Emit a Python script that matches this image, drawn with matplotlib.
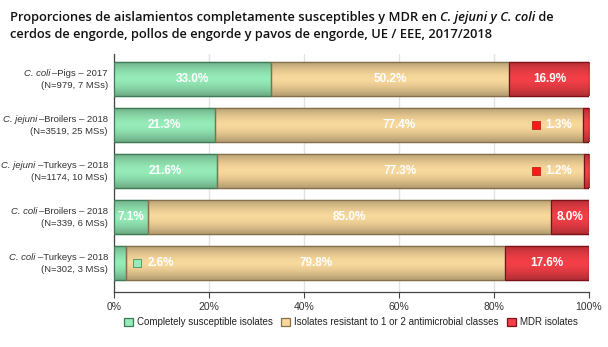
import numpy as np
import matplotlib
matplotlib.use("Agg")
import matplotlib.pyplot as plt
from matplotlib.colors import to_rgb
from matplotlib.patches import Patch

plt.rcParams['font.family'] = ['Liberation Sans', 'DejaVu Sans']

species = ["C. coli", "C. jejuni", "C. jejuni", "C. coli", "C. coli"]
groups = ["Pigs – 2017", "Broilers – 2018", "Turkeys – 2018", "Broilers – 2018", "Turkeys – 2018"]
samples = ["(N=979, 7 MSs)", "(N=3519, 25 MSs)", "(N=1174, 10 MSs)", "(N=339, 6 MSs)", "(N=302, 3 MSs)"]

susceptible = [33.0, 21.3, 21.6, 7.1, 2.6]
resistant = [50.2, 77.4, 77.3, 85.0, 79.8]
mdr = [16.9, 1.3, 1.2, 8.0, 17.6]

series_names = ["Completely susceptible isolates",
                "Isolates resistant to 1 or 2 antimicrobial classes",
                "MDR isolates"]
fills = ["#96ecb8", "#f8d89c", "#f43f48"]
edges = ["#3d7a55", "#86704c", "#7c1218"]

W, H = 608, 347
fig = plt.figure(figsize=(W / 100, H / 100), dpi=100)
ax = fig.add_axes([114 / W, 1 - 292 / H, 475 / W, 238 / H])
renderer = fig.canvas.get_renderer()

y = np.arange(len(groups))
bar_h = 0.74


def shade(color, n=64):
    # vertical gradient: darker at the edges, bright in the middle
    t = np.linspace(0, 1, n)
    f = 1 - 0.28 * np.abs(2 * t - 1) ** 1.6
    rgb = np.array(to_rgb(color))
    return np.clip(rgb[None, :] * f[:, None], 0, 1)[:, None, :]


left = np.zeros(len(groups))
for vals, fc, ec in zip([susceptible, resistant, mdr], fills, edges):
    bars = ax.barh(y, vals, left=left, height=bar_h, color=fc, edgecolor=ec,
                   linewidth=0.9, zorder=3)
    for b in bars:
        x0, y0 = b.get_x(), b.get_y()
        w, h = b.get_width(), b.get_height()
        im = ax.imshow(shade(fc), extent=(x0, x0 + w, y0 + h, y0),
                       aspect='auto', zorder=3.5, interpolation='bilinear')
        im.set_clip_path(b)
        # redraw the outline above the gradient
        ax.add_patch(plt.Rectangle((x0, y0), w, h, fill=False, edgecolor=ec,
                                   linewidth=0.9, zorder=4))
    left = left + np.array(vals)

# value labels
lab_kw = dict(color="white", fontsize=8.5, fontweight="bold", va="center", zorder=6)
for i in range(len(groups)):
    s, r, m = susceptible[i], resistant[i], mdr[i]
    if s >= 5:
        ax.text(s / 2, i, f"{s:.1f}%", ha="center", **lab_kw)
    else:
        ax.scatter(s + 2.2, i, marker="s", s=26, color=fills[0],
                   edgecolor=edges[0], linewidth=0.5, zorder=6)
        ax.text(s + 7.2, i, f"{s:.1f}%", ha="center", **lab_kw)
    ax.text(s + r / 2, i, f"{r:.1f}%", ha="center", **lab_kw)
    if m >= 5:
        ax.text(s + r + m / 2, i, f"{m:.1f}%", ha="center", **lab_kw)
    else:
        start = 100 - m
        ax.scatter(start - 9.9, i, marker="s", s=26, color="#ff1a1a",
                   edgecolor="#b01010", linewidth=0.5, zorder=6)
        ax.text(start - 5.1, i, f"{m:.1f}%", ha="center", **lab_kw)

ax.set_xlim(0, 100)
ax.set_ylim(len(groups) - 1 + 29 / 46, -25 / 46)
ax.set_xticks([0, 20, 40, 60, 80, 100])
ax.set_xticklabels(["0%", "20%", "40%", "60%", "80%", "100%"])
ax.set_yticks(y)
ax.set_yticklabels([])
ax.tick_params(axis="y", length=0)
ax.tick_params(axis="x", length=4, width=0.8, color="#444444", labelsize=7.5,
               labelcolor="#333333", pad=3)
ax.grid(axis="x", color="#e2e2e2", linewidth=1, zorder=0)
ax.set_axisbelow(True)
for side in ["top", "right"]:
    ax.spines[side].set_visible(False)
for side in ["left", "bottom"]:
    ax.spines[side].set_color("#444444")
    ax.spines[side].set_linewidth(0.9)

# category labels: italic species name followed by host and year, sample size below
cat_kw = dict(fontsize=6.8, color="#333333", va="center", ha="right")
x_right = 108 / W
for i in range(len(groups)):
    ypix = ax.transData.transform((0, i))[1]
    y1 = (ypix + 5) / H
    y2 = (ypix - 6) / H
    t = fig.text(x_right, y1, "–" + groups[i], **cat_kw)
    wpix = t.get_window_extent(renderer).width
    fig.text(x_right - (wpix + 2) / W, y1, species[i], fontstyle="italic", **cat_kw)
    fig.text(x_right, y2, samples[i], **cat_kw)

handles = [Patch(facecolor=fc, edgecolor=ec, linewidth=0.9) for fc, ec in zip(fills, edges)]
fig.legend(handles, series_names, loc="center", bbox_to_anchor=(351 / W, 1 - 322 / H),
           ncol=3, frameon=False, fontsize=7, handlelength=0.9, handleheight=0.9,
           handletextpad=0.4, columnspacing=0.9, labelcolor="#222222")

# title, with the species names in italics
title_lines = [
    [("Proporciones de aislamientos completamente susceptibles y MDR en ", "normal"),
     ("C. jejuni y C. coli", "italic"), (" de", "normal")],
    [("cerdos de engorde, pollos de engorde y pavos de engorde, UE / EEE, 2017/2018", "normal")],
]
for k, parts in enumerate(title_lines):
    xpos = 10 / W
    ypos = 1 - (21 + 17 * k) / H
    for txt, style in parts:
        t = fig.text(xpos, ypos, txt, fontsize=9.3, fontstyle=style, fontweight="semibold",
                     family=["Open Sans", "DejaVu Sans"], color="#111111", va="baseline")
        wpx = t.get_window_extent(renderer).width
        if style == "italic":
            wpx -= 1
        xpos += wpx / fig.bbox.width

fig.savefig("out.png", dpi=100)
